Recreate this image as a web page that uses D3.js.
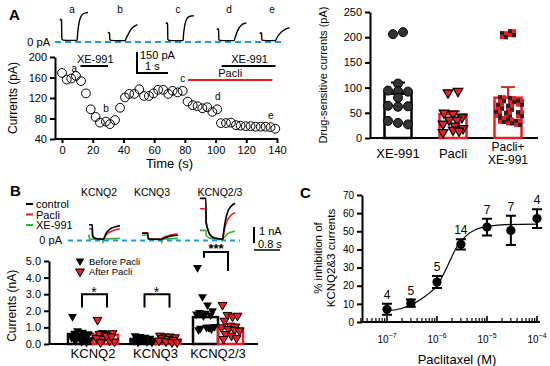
<!DOCTYPE html>
<html>
<head>
<meta charset="utf-8">
<script src="https://cdn.jsdelivr.net/npm/d3@7"></script>
<style>
body { margin: 0; background: #fff; }
svg { font-family: "Liberation Sans", Arial, sans-serif; }
</style>
</head>
<body>
<svg width="550" height="366"></svg>
<script>
// ---------- data ----------
// A: time course
var timeA = [0,3.1,6.0,9.1,12.4,15.6,18.7,21.9,24.7,28.6,31.2,34.5,37.8,41.0,43.8,47.1,50.3,53.4,56.6,59.5,62.6,65.9,69.2,72.0,75.3,78.6,81.8,85.1,88.3,91.4,94.6,97.9,101.1,103.5,106.8,110.0,113.3,116.3,119.6,122.8,126.1,129.4,132.6,135.8,138.9];
var currA = [169,156,158,163,153,129,98,83,72,74,69,77,101,121,128,128,137,124,124,129,136,136,128,134,131,134,113,106,104,100,102,93,98,71,71,72,67,66,65,65,64,64,64,63,60];
var pointLabels = [{t: 8, v: 170, k: "a"}, {t: 28.6, v: 92, k: "b"}, {t: 78.6, v: 152, k: "c"}, {t: 101.5, v: 116, k: "d"}, {t: 136, v: 80, k: "e"}];
var xeOn = [[12, 30], [104, 139]];
var pacliOn = [82, 137];

// A: example traces a-e, [s, pA]
var traceNames = ["a", "b", "c", "d", "e"];
var tracesA = [
  [[0,150],[0.03,160],[0.05,150],[0.06,20],[0.1,10],[0.3,8],[0.55,8],[0.57,60],[0.62,140],[0.68,180],[0.75,198],[0.85,205],[0.9,207]],
  [[0,60],[0.03,65],[0.05,55],[0.06,15],[0.1,8],[0.3,6],[0.55,6],[0.58,20],[0.65,50],[0.72,80],[0.8,100],[0.9,115],[0.95,120]],
  [[0,125],[0.03,135],[0.05,125],[0.06,15],[0.1,8],[0.3,6],[0.55,6],[0.57,60],[0.62,130],[0.68,165],[0.75,178],[0.85,183],[0.9,185]],
  [[0,85],[0.03,92],[0.05,85],[0.06,12],[0.1,8],[0.3,6],[0.55,6],[0.58,25],[0.65,70],[0.72,100],[0.8,120],[0.9,130],[0.95,133]],
  [[0,55],[0.03,62],[0.05,55],[0.06,12],[0.1,8],[0.3,6],[0.5,6],[0.53,20],[0.6,45],[0.7,70],[0.8,85],[0.9,95],[0.95,98]]
];

// A right: drug-sensitive currents
var drugCats = ["XE-991", "Pacli", "Pacli+\nXE-991"];
var drugMean = [88, 47, 80];
var drugErr = [22, 6, 21];
var xeVals = [206,210,108,94,93,92,80,64,62,63,34,30,27];
var pacliVals = [93,90,50,48,41,36,36,28,24,19,16,11,14];
var comboVals = [204,208,77,75,70,62,60,48,46,47,36,33,30];

// B: example traces, [s, nA]
var chanNames = ["KCNQ2", "KCNQ3", "KCNQ2/3"];
var traceLegend = ["control", "Pacli", "XE-991"];
var tracesB = [
  [
    [[0,0.95],[0.1,0.95],[0.11,0.3],[0.15,0.15],[0.25,0.08],[0.43,0.05],[0.46,0.1],[0.52,0.4],[0.6,0.6],[0.7,0.75],[0.85,0.85],[0.95,0.9]],
    [[0,0.7],[0.1,0.7],[0.11,0.25],[0.15,0.12],[0.25,0.07],[0.43,0.05],[0.46,0.1],[0.52,0.3],[0.6,0.45],[0.7,0.55],[0.85,0.65],[0.95,0.7]],
    [[0,0.35],[0.01,0.05],[0.1,0.05],[0.42,0.03],[0.43,-0.18],[0.44,0.05],[0.95,0.1]]
  ],
  [
    [[0,0.42],[0.18,0.42],[0.19,0.1],[0.3,0.05],[0.6,0.04],[0.63,0.08],[0.8,0.2],[1.0,0.28],[1.1,0.3]],
    [[0,0.45],[0.18,0.45],[0.19,0.1],[0.3,0.06],[0.6,0.05],[0.63,0.1],[0.8,0.25],[1.0,0.35],[1.1,0.38]],
    [[0,0.3],[0.18,0.3],[0.19,0.05],[0.6,0.03],[0.61,-0.18],[0.62,0.05],[1.1,0.1]]
  ],
  [
    [[0,2.6],[0.18,2.6],[0.19,1.1],[0.25,0.6],[0.32,0.3],[0.45,0.12],[0.7,0.05],[0.72,0.4],[0.78,1.2],[0.86,1.8],[0.95,2.1],[1.08,2.3]],
    [[0,1.95],[0.18,1.95],[0.19,1.1],[0.25,0.6],[0.32,0.3],[0.45,0.12],[0.7,0.05],[0.72,0.3],[0.78,0.9],[0.86,1.3],[0.95,1.55],[1.08,1.7]],
    [[0,0.6],[0.18,0.6],[0.19,0.3],[0.3,0.12],[0.45,0.05],[0.7,0.03],[0.72,0.1],[0.8,0.3],[0.9,0.45],[1.08,0.55]]
  ]
];

// B bottom: currents before / after Pacli
var beforeMean = [0.6, 0.3, 1.62];
var afterMean = [0.55, 0.27, 0.95];
var beforeVals = [
  [1.65,0.8,0.7,0.6,0.65,0.5,0.55,0.4,0.45,0.3,0.25,0.2,0.15,0.1,0.35,0.5,0.6],
  [0.5,0.45,0.4,0.35,0.3,0.3,0.25,0.2,0.2,0.15,0.1,0.1,0.3,0.25],
  [4.6,2.85,2.35,2.0,1.9,1.85,1.75,1.8,1.7,1.0,1.05,0.95,1.0,0.9,0.85,1.0]
];
var afterVals = [
  [1.45,0.65,0.6,0.65,0.6,0.55,0.4,0.35,0.3,0.2,0.15,0.1,0.5,0.45],
  [0.5,0.45,0.45,0.4,0.35,0.3,0.25,0.2,0.15,0.1,0.1],
  [2.35,1.75,1.65,1.7,1.4,1.1,1.05,1.0,0.9,0.85,0.8,0.6,0.5,0.35,0.3]
];
var sigLabels = ["*", "*", "***"];

// C: dose response
var conc = [1e-7, 3e-7, 1e-6, 3e-6, 1e-5, 3e-5, 1e-4];
var inhib = [7, 10.4, 22, 42.8, 52.3, 50.5, 57];
var inhibErr = [3, 2, 3.3, 2.8, 4.6, 8, 5.2];
var nCells = [4, 5, 5, 14, 7, 7, 4];
var fitConc = [1e-7, 2e-7, 3.3e-7, 6e-7, 1e-6, 1.6e-6, 2.5e-6, 4e-6, 6e-6, 1e-5, 2.5e-5, 1e-4];
var fitVal = [6.2, 7.6, 10.0, 14.5, 20.0, 30.5, 41.5, 48.0, 51.0, 52.6, 53.7, 54.0];

// ---------- drawing ----------
var svg = d3.select("svg");
var red = "#ec1c24", blue = "#1b9ce2", green = "#2fb52f";

function styleAxis(g, fs) {
  g.selectAll("path, line").attr("stroke", "#000").attr("stroke-width", 2);
  g.selectAll("text").attr("font-size", fs).attr("fill", "#000")
    .attr("font-family", "Liberation Sans, Arial, sans-serif");
}

// panel letters
svg.append("text").attr("x", 9).attr("y", 20).text("A").attr("font-size", 15).attr("font-weight", "bold");
svg.append("text").attr("x", 10).attr("y", 196).text("B").attr("font-size", 15).attr("font-weight", "bold");
svg.append("text").attr("x", 300).attr("y", 198).text("C").attr("font-size", 15).attr("font-weight", "bold");

// ---- A: traces ----
var traceStart = [60, 108, 166, 217, 260];
var tX = d3.scaleLinear().domain([0, 1]).range([0, 31]);
var tY = d3.scaleLinear().domain([0, 150]).range([41.5, 20.5]);
var lineA = d3.line().x(function(d) { return tX(d[0]); }).y(function(d) { return tY(d[1]); }).curve(d3.curveMonotoneX);

svg.append("line").attr("x1", 55).attr("x2", 285).attr("y1", 42).attr("y2", 42)
  .attr("stroke", blue).attr("stroke-width", 2).attr("stroke-dasharray", "6,4");
svg.append("text").attr("x", 50).attr("y", 46).attr("text-anchor", "end").attr("font-size", 11).text("0 pA");

tracesA.forEach(function(tr, i) {
  var g = svg.append("g").attr("transform", "translate(" + traceStart[i] + ",0)");
  g.append("path").attr("d", lineA(tr)).attr("fill", "none").attr("stroke", "#000").attr("stroke-width", 1.4);
  g.append("text").attr("x", 12).attr("y", 13).attr("text-anchor", "middle").attr("font-size", 10).text(traceNames[i]);
});

// scale bar
var sb = svg.append("g").attr("transform", "translate(137,73)");
sb.append("path").attr("d", "M0," + (tY(150) - tY(0)) + "V0H" + tX(1)).attr("fill", "none").attr("stroke", "#000").attr("stroke-width", 2);
sb.append("text").attr("x", 3).attr("y", -14).attr("font-size", 11).text("150 pA");
sb.append("text").attr("x", 8).attr("y", -3).attr("font-size", 11).text("1 s");

// ---- A: time course ----
var xA = d3.scaleLinear().domain([0, 140]).range([62, 277]);
var yA = d3.scaleLinear().domain([40, 200]).range([139, 57]);

var gAx = svg.append("g").attr("transform", "translate(0,139)")
  .call(d3.axisBottom(xA).tickValues(d3.range(0, 141, 20)).tickSize(4).tickSizeOuter(0));
gAx.select(".domain").attr("d", "M55,0H278");
styleAxis(gAx, 11);
var gAy = svg.append("g").attr("transform", "translate(55,0)")
  .call(d3.axisLeft(yA).tickValues([40, 80, 120, 160, 200]).tickSize(5).tickSizeOuter(0));
styleAxis(gAy, 11);
svg.append("text").attr("x", xA(70)).attr("y", 168).attr("text-anchor", "middle").attr("font-size", 13).text("Time (s)");
svg.append("text").attr("transform", "translate(17," + yA(120) + ") rotate(-90)").attr("text-anchor", "middle").attr("font-size", 12).text("Currents (pA)");

svg.append("g").selectAll("circle").data(timeA).enter().append("circle")
  .attr("cx", function(d) { return xA(d); })
  .attr("cy", function(d, i) { return yA(currA[i]); })
  .attr("r", 4.4).attr("fill", "none").attr("stroke", "#000").attr("stroke-width", 1);

svg.append("g").selectAll("text").data(pointLabels).enter().append("text")
  .attr("x", function(d) { return xA(d.t); }).attr("y", function(d) { return yA(d.v); })
  .attr("text-anchor", "middle").attr("font-size", 10).text(function(d) { return d.k; });

xeOn.forEach(function(p) {
  svg.append("line").attr("x1", xA(p[0])).attr("x2", xA(p[1])).attr("y1", 66).attr("y2", 66).attr("stroke", "#000").attr("stroke-width", 2);
  svg.append("text").attr("x", (xA(p[0]) + xA(p[1])) / 2 + 1).attr("y", 63).attr("text-anchor", "middle").attr("font-size", 11).text("XE-991");
});
svg.append("line").attr("x1", xA(pacliOn[0])).attr("x2", xA(pacliOn[1])).attr("y1", 80).attr("y2", 80).attr("stroke", red).attr("stroke-width", 2);
svg.append("text").attr("x", (xA(pacliOn[0]) + xA(pacliOn[1])) / 2).attr("y", 77).attr("text-anchor", "middle").attr("font-size", 11).text("Pacli");

// ---- A right: drug-sensitive currents ----
var xR = d3.scalePoint().domain(drugCats).range([398, 508]);
var yR = d3.scaleLinear().domain([0, 250]).range([138, 12]);
var barW = 27;

var gRy = svg.append("g").attr("transform", "translate(370,0)")
  .call(d3.axisLeft(yR).tickValues(d3.range(0, 251, 50)).tickSize(5).tickSizeOuter(0));
styleAxis(gRy, 11);
svg.append("line").attr("x1", 370).attr("x2", 538).attr("y1", 138).attr("y2", 138).attr("stroke", "#000").attr("stroke-width", 2);
svg.append("text").attr("transform", "translate(327," + yR(125) + ") rotate(-90)").attr("text-anchor", "middle").attr("font-size", 11).text("Drug-sensitive currents (pA)");

drugCats.forEach(function(c, i) {
  var lines = c.split("\n");
  var t = svg.append("text").attr("text-anchor", "middle").attr("font-size", lines.length > 1 ? 12 : 13);
  lines.forEach(function(s, j) {
    t.append("tspan").attr("x", xR(c)).attr("y", lines.length > 1 ? 151 + j * 13 : 158).text(s);
  });
  var col = i === 0 ? "#000" : red;
  var cx = xR(c);
  svg.append("line").attr("x1", cx).attr("x2", cx).attr("y1", yR(drugMean[i])).attr("y2", yR(drugMean[i] + drugErr[i])).attr("stroke", col).attr("stroke-width", 2);
  svg.append("line").attr("x1", cx - 7).attr("x2", cx + 7).attr("y1", yR(drugMean[i] + drugErr[i])).attr("y2", yR(drugMean[i] + drugErr[i])).attr("stroke", col).attr("stroke-width", 2);
  svg.append("rect").attr("x", cx - barW / 2).attr("y", yR(drugMean[i])).attr("width", barW).attr("height", yR(0) - yR(drugMean[i]))
    .attr("fill", "none").attr("stroke", col).attr("stroke-width", 2.5);
});

var jitR = [-5, 5, 0, -10, 0, 10, 0, -10, 0, 10, -10, 0, 10];
svg.append("g").selectAll("circle").data(xeVals).enter().append("circle")
  .attr("cx", function(d, i) { return xR(drugCats[0]) + jitR[i]; })
  .attr("cy", function(d) { return yR(d); })
  .attr("r", 4.5).attr("fill", "#333").attr("stroke", "#000");

var tri = d3.symbol().type(d3.symbolTriangle).size(40);
var jitP = [5, -5, -9, 0, 9, -4, 4, -10, 2, 10, 0, -10, 6];
svg.append("g").selectAll("path").data(pacliVals).enter().append("path")
  .attr("d", tri)
  .attr("transform", function(d, i) { return "translate(" + (xR(drugCats[1]) + jitP[i]) + "," + yR(d) + ") rotate(180)"; })
  .attr("fill", red).attr("stroke", "#000").attr("stroke-width", 1.2);

var jitC = [-4, 4, -6, 4, 12, -8, 2, -10, 0, 12, -6, 2, 10];
var sq = svg.append("g").selectAll("g").data(comboVals).enter().append("g")
  .attr("transform", function(d, i) { return "translate(" + (xR(drugCats[2]) + jitC[i]) + "," + yR(d) + ")"; });
sq.append("rect").attr("x", -4).attr("y", -4).attr("width", 8).attr("height", 8).attr("fill", red);
sq.append("rect").attr("x", -4).attr("y", -4).attr("width", 4).attr("height", 4).attr("fill", "#222");
sq.append("rect").attr("x", 0).attr("y", 0).attr("width", 4).attr("height", 4).attr("fill", "#222");

// ---- B: traces ----
var bStart = [89, 142, 200];
var bX = d3.scaleLinear().domain([0, 0.8]).range([0, 26]);
var bY = d3.scaleLinear().domain([0, 1]).range([240, 224]);
var lineB = d3.line().x(function(d) { return bX(d[0]); }).y(function(d) { return bY(d[1]); }).curve(d3.curveMonotoneX);
var trCols = ["#000", red, green];

svg.append("line").attr("x1", 68).attr("x2", 240).attr("y1", 240.5).attr("y2", 240.5)
  .attr("stroke", blue).attr("stroke-width", 2).attr("stroke-dasharray", "5,4");
svg.append("text").attr("x", 62).attr("y", 244).attr("text-anchor", "end").attr("font-size", 11).text("0 pA");

tracesB.forEach(function(set, i) {
  var g = svg.append("g").attr("transform", "translate(" + bStart[i] + ",0)");
  svg.append("text").attr("x", bStart[i] + (i === 2 ? 20 : 10)).attr("y", 196).attr("text-anchor", "middle").attr("font-size", 10.5).text(chanNames[i]);
  [2, 1, 0].forEach(function(k) {
    g.append("path").attr("d", lineB(set[k])).attr("fill", "none").attr("stroke", trCols[k]).attr("stroke-width", 1.6);
  });
});

traceLegend.forEach(function(s, k) {
  var y = 204 + k * 10.5;
  svg.append("line").attr("x1", 26).attr("x2", 33).attr("y1", y).attr("y2", y).attr("stroke", trCols[k]).attr("stroke-width", 2);
  svg.append("text").attr("x", 36).attr("y", y + 4).attr("font-size", 11).text(s);
});

var sbB = svg.append("g").attr("transform", "translate(254,0)");
sbB.append("line").attr("x1", 0).attr("x2", 0).attr("y1", bY(0) + 3).attr("y2", bY(1) + 3).attr("stroke", "#000").attr("stroke-width", 2);
sbB.append("line").attr("x1", 0).attr("x2", bX(0.8)).attr("y1", 250).attr("y2", 250).attr("stroke", "#000").attr("stroke-width", 1.5);
sbB.append("text").attr("x", 5).attr("y", 235).attr("font-size", 11).text("1 nA");
sbB.append("text").attr("x", 4).attr("y", 248).attr("font-size", 11).text("0.8 s");

// ---- B bottom ----
var xB = d3.scalePoint().domain(chanNames).range([93, 218]);
var yB = d3.scaleLinear().domain([0, 5]).range([344, 261]);
var bw = 25;

var gBy = svg.append("g").attr("transform", "translate(49,0)")
  .call(d3.axisLeft(yB).tickValues(d3.range(0, 6)).tickSize(5).tickSizeOuter(0));
styleAxis(gBy, 11);
svg.append("line").attr("x1", 49).attr("x2", 258).attr("y1", 344).attr("y2", 344).attr("stroke", "#000").attr("stroke-width", 2);
svg.append("text").attr("transform", "translate(16," + yB(2.3) + ") rotate(-90)").attr("text-anchor", "middle").attr("font-size", 12).text("Currents (nA)");

var jitB = [-8, -3, 2, 7, -6, 0, 5, -9, -2, 4, 9, -5, 1, 6, -7, 3, 8];
var triB = d3.symbol().type(d3.symbolTriangle).size(34);
chanNames.forEach(function(c, i) {
  var cx = xB(c);
  svg.append("text").attr("x", cx).attr("y", 358).attr("text-anchor", "middle").attr("font-size", 13).text(c);
  svg.append("rect").attr("x", cx - bw).attr("y", yB(beforeMean[i])).attr("width", bw).attr("height", yB(0) - yB(beforeMean[i]))
    .attr("fill", "none").attr("stroke", "#000").attr("stroke-width", 2.5);
  svg.append("rect").attr("x", cx).attr("y", yB(afterMean[i])).attr("width", bw).attr("height", yB(0) - yB(afterMean[i]))
    .attr("fill", "none").attr("stroke", red).attr("stroke-width", 2.5);
  svg.append("g").selectAll("path").data(beforeVals[i]).enter().append("path")
    .attr("d", triB)
    .attr("transform", function(d, j) { return "translate(" + (cx - bw / 2 + jitB[j]) + "," + yB(d) + ") rotate(180)"; })
    .attr("fill", "#000");
  svg.append("g").selectAll("path").data(afterVals[i]).enter().append("path")
    .attr("d", triB)
    .attr("transform", function(d, j) { return "translate(" + (cx + bw / 2 + jitB[j]) + "," + yB(d) + ") rotate(180)"; })
    .attr("fill", red).attr("stroke", "#000").attr("stroke-width", 1);
});

// significance brackets
[0, 1].forEach(function(i) {
  var cx = xB(chanNames[i]);
  svg.append("path").attr("d", "M" + (cx - 11) + "," + yB(2.2) + "V" + yB(3) + "H" + (cx + 14) + "V" + yB(2.2))
    .attr("fill", "none").attr("stroke", "#000").attr("stroke-width", 2);
  svg.append("text").attr("x", cx + 1).attr("y", yB(3.1) + 4).attr("text-anchor", "middle").attr("font-size", 14).text(sigLabels[i]);
});
var c3 = xB(chanNames[2]);
svg.append("path").attr("d", "M" + (c3 - 14) + "," + yB(5.2) + "V" + 252 + "H" + (c3 + 10) + "V" + yB(4.4))
  .attr("fill", "none").attr("stroke", "#000").attr("stroke-width", 2);
svg.append("text").attr("x", c3 - 2).attr("y", 253).attr("text-anchor", "middle").attr("font-size", 13).attr("font-weight", "bold").text(sigLabels[2]);

// legend B bottom
var leg = [{t: "Before Pacli", f: "#000", s: "none"}, {t: "After Pacli", f: red, s: "#000"}];
leg.forEach(function(l, k) {
  var y = 261 + k * 10.5;
  svg.append("path").attr("d", triB).attr("transform", "translate(80," + y + ") rotate(180)").attr("fill", l.f).attr("stroke", l.s);
  svg.append("text").attr("x", 89).attr("y", y + 3.5).attr("font-size", 9.5).text(l.t);
});

// ---- C ----
var xC = d3.scaleLog().domain([1e-7, 1e-4]).range([387, 537]);
var yC = d3.scaleLinear().domain([0, 70]).range([322, 195]);

var gCy = svg.append("g").attr("transform", "translate(362,0)")
  .call(d3.axisLeft(yC).tickValues(d3.range(0, 71, 10)).tickSize(5).tickSizeOuter(0));
styleAxis(gCy, 10);
svg.append("line").attr("x1", 362).attr("x2", 540).attr("y1", 322).attr("y2", 322).attr("stroke", "#000").attr("stroke-width", 2);

var minor = [];
[-8, -7, -6, -5].forEach(function(e) {
  d3.range(2, 10).forEach(function(m) {
    var v = m * Math.pow(10, e);
    if (v > 3e-8 && v < 1e-4) minor.push(v);
  });
});
svg.append("g").selectAll("line").data(minor).enter().append("line")
  .attr("x1", function(d) { return xC(d); }).attr("x2", function(d) { return xC(d); })
  .attr("y1", 322).attr("y2", 318).attr("stroke", "#000").attr("stroke-width", 1.2);
var majors = [1e-7, 1e-6, 1e-5, 1e-4];
svg.append("g").selectAll("line").data(majors).enter().append("line")
  .attr("x1", function(d) { return xC(d); }).attr("x2", function(d) { return xC(d); })
  .attr("y1", 322).attr("y2", 316).attr("stroke", "#000").attr("stroke-width", 1.6);
majors.forEach(function(d) {
  var t = svg.append("text").attr("x", xC(d)).attr("y", 343).attr("text-anchor", "middle").attr("font-size", 10);
  t.append("tspan").text("10");
  t.append("tspan").attr("dy", -5).attr("font-size", 7).text(String(Math.round(Math.log10(d))).replace("-", "\u2212"));
});
svg.append("text").attr("x", 457).attr("y", 364).attr("text-anchor", "middle").attr("font-size", 13).text("Paclitaxel (M)");
svg.append("text").attr("transform", "translate(322,258) rotate(-90)").attr("text-anchor", "middle").attr("font-size", 11.5).text("% inhibition of");
svg.append("text").attr("transform", "translate(335,258) rotate(-90)").attr("text-anchor", "middle").attr("font-size", 11.5).text("KCNQ2&3 currents");

var fitLine = d3.line().x(function(d, i) { return xC(d); }).y(function(d, i) { return yC(fitVal[i]); }).curve(d3.curveMonotoneX);
svg.append("path").attr("d", fitLine(fitConc)).attr("fill", "none").attr("stroke", "#000").attr("stroke-width", 1.2);

var pts = svg.append("g").selectAll("g").data(conc).enter().append("g");
pts.append("path").attr("d", function(d, i) {
  var x = xC(d), lo = yC(inhib[i] - inhibErr[i]), hi = yC(inhib[i] + inhibErr[i]);
  return "M" + x + "," + lo + "V" + hi + "M" + (x - 5) + "," + hi + "H" + (x + 5) + "M" + (x - 5) + "," + lo + "H" + (x + 5);
}).attr("stroke", "#000").attr("stroke-width", 2).attr("fill", "none");
pts.append("circle").attr("cx", function(d) { return xC(d); }).attr("cy", function(d, i) { return yC(inhib[i]); })
  .attr("r", 4.6).attr("fill", "#000");
pts.append("text").attr("x", function(d) { return xC(d); })
  .attr("y", function(d, i) { return yC(inhib[i] + inhibErr[i]) - 5; })
  .attr("text-anchor", "middle").attr("font-size", 12).text(function(d, i) { return nCells[i]; });
</script>
</body>
</html>
